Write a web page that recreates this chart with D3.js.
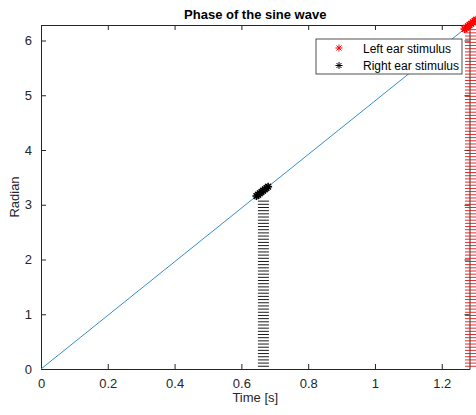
<!DOCTYPE html>
<html>
<head>
<meta charset="utf-8">
<script src="https://cdn.jsdelivr.net/npm/d3@7/dist/d3.min.js"></script>
<style>
    body { margin: 0; background: #fff; }
    svg { display: block; font-family: "Liberation Sans", Arial, sans-serif; }
</style>
</head>
<body>
<svg id="svg"></svg>
<script>
// phase line, one period of the sine wave
let phaseTime = [0, 1.283];
let phaseValue = [0, 6.2832];

// stimulus onsets (asterisks along the phase line)
let rightEarTime = [0.645, 0.65, 0.655, 0.66, 0.665, 0.67, 0.675, 0.68];
let rightEarPhase = [3.159, 3.183, 3.208, 3.232, 3.257, 3.281, 3.305, 3.330];
let leftEarTime = [1.268, 1.273, 1.278, 1.283, 1.288, 1.293, 1.298, 1.303];
let leftEarPhase = [6.209, 6.234, 6.258, 6.283, 6.307, 6.332, 6.356, 6.381];

// dashed stacks under each stimulus
let rightStackTime = 0.666;
let rightStackTop = 3.1;
let leftStackTime = 1.286;
let leftStackTop = 6.2;
let dashLevels = [0.05, 0.108, 0.166, 0.224, 0.282, 0.34, 0.398, 0.456, 0.514, 0.572,
    0.63, 0.688, 0.746, 0.804, 0.862, 0.92, 0.978, 1.036, 1.094, 1.152,
    1.21, 1.268, 1.326, 1.384, 1.442, 1.5, 1.558, 1.616, 1.674, 1.732,
    1.79, 1.848, 1.906, 1.964, 2.022, 2.08, 2.138, 2.196, 2.254, 2.312,
    2.37, 2.428, 2.486, 2.544, 2.602, 2.66, 2.718, 2.776, 2.834, 2.892,
    2.95, 3.008, 3.066, 3.124, 3.182, 3.24, 3.298, 3.356, 3.414, 3.472,
    3.53, 3.588, 3.646, 3.704, 3.762, 3.82, 3.878, 3.936, 3.994, 4.052,
    4.11, 4.168, 4.226, 4.284, 4.342, 4.4, 4.458, 4.516, 4.574, 4.632,
    4.69, 4.748, 4.806, 4.864, 4.922, 4.98, 5.038, 5.096, 5.154, 5.212,
    5.27, 5.328, 5.386, 5.444, 5.502, 5.56, 5.618, 5.676, 5.734, 5.792,
    5.85, 5.908, 5.966, 6.024, 6.082, 6.14, 6.198];

let xTicks = [0, 0.2, 0.4, 0.6, 0.8, 1, 1.2];
let yTicks = [0, 1, 2, 3, 4, 5, 6];
let legendLabels = ["Left ear stimulus", "Right ear stimulus"];
let legendColors = ["#ff0000", "#000000"];

const width = 476;
const height = 415;
const margin = { top: 25, right: 6.5, bottom: 46, left: 41 };
const chartWidth = width - margin.left - margin.right;
const chartHeight = height - margin.top - margin.bottom;
const axisColor = "#262626";

let svg = d3.select("#svg").attr("width", width).attr("height", height);

let chart = svg.append("g")
    .attr("transform", "translate(" + margin.left + "," + margin.top + ")");

let xScale = d3.scaleLinear().domain([0, phaseTime[1]]).range([0, chartWidth]);
let yScale = d3.scaleLinear().domain([0, phaseValue[1]]).range([chartHeight, 0]);

// axes, ticks inward like matlab
chart.append("g")
    .attr("transform", `translate(0,${chartHeight})`)
    .call(d3.axisBottom(xScale).tickValues(xTicks).tickSizeInner(-5).tickSizeOuter(0).tickPadding(10).tickFormat(d3.format("~g")));
chart.append("g")
    .call(d3.axisTop(xScale).tickValues(xTicks).tickSizeInner(-5).tickSizeOuter(0).tickFormat(""));
chart.append("g")
    .call(d3.axisLeft(yScale).tickValues(yTicks).tickSizeInner(-5).tickSizeOuter(0).tickPadding(9).tickFormat(d3.format("~g")));
chart.append("g")
    .attr("transform", `translate(${chartWidth},0)`)
    .call(d3.axisRight(yScale).tickValues(yTicks).tickSizeInner(-5).tickSizeOuter(0).tickFormat(""));

chart.selectAll(".domain, .tick line").attr("stroke", axisColor);
chart.selectAll(".tick text")
    .attr("fill", axisColor)
    .style("font-size", "13px")
    .style("font-family", "Liberation Sans, Arial, sans-serif");

// phase line
chart.append("path")
    .datum(d3.zip(phaseTime, phaseValue))
    .attr("fill", "none")
    .attr("stroke", "#1f80c4")
    .attr("stroke-width", 0.9)
    .attr("d", d3.line().x(d => xScale(d[0])).y(d => yScale(d[1])));

// dash stacks
function drawStack(t, top, color) {
    let cx = xScale(t);
    chart.append("g").selectAll("line")
        .data(dashLevels.filter(d => d < top))
        .join("line")
        .attr("x1", cx - 5.5)
        .attr("x2", cx + 5.5)
        .attr("y1", d => yScale(d))
        .attr("y2", d => yScale(d))
        .attr("stroke", color)
        .attr("stroke-width", 0.9);
}
drawStack(rightStackTime, rightStackTop, "#000000");
drawStack(leftStackTime, leftStackTop, "#d81818");

// asterisk marker
function asterisk(g, x, y, r, color, w) {
    let a = r * 0.7071;
    let segs = [[-r, 0, r, 0], [0, -r, 0, r], [-a, -a, a, a], [-a, a, a, -a]];
    for (let s of segs) {
        g.append("line")
            .attr("x1", x + s[0]).attr("y1", y + s[1])
            .attr("x2", x + s[2]).attr("y2", y + s[3])
            .attr("stroke", color)
            .attr("stroke-width", w);
    }
}

let markers = chart.append("g");
rightEarTime.forEach((t, i) => asterisk(markers, xScale(t), yScale(rightEarPhase[i]), 4, "#000000", 1.6));
leftEarTime.forEach((t, i) => asterisk(markers, xScale(t), yScale(leftEarPhase[i]), 4, "#ff0000", 1.6));

// legend
let legend = svg.append("g").attr("transform", "translate(316,39)");
legend.append("rect")
    .attr("width", 146).attr("height", 35)
    .attr("fill", "#fff")
    .attr("stroke", axisColor)
    .attr("stroke-width", 0.8);
legendLabels.forEach((label, i) => {
    let y = 9 + i * 17.5;
    asterisk(legend, 23, y, 3.5, legendColors[i], 1);
    legend.append("text")
        .attr("x", 47).attr("y", y + 4.5)
        .attr("fill", "#000")
        .style("font-size", "12px")
        .text(label);
});

// title and axis labels
svg.append("text")
    .attr("x", margin.left + chartWidth / 2)
    .attr("y", 19)
    .attr("text-anchor", "middle")
    .style("font-size", "13px")
    .style("font-weight", "bold")
    .attr("fill", "#000")
    .text("Phase of the sine wave");

svg.append("text")
    .attr("x", margin.left + chartWidth / 2)
    .attr("y", 402)
    .attr("text-anchor", "middle")
    .style("font-size", "13px")
    .attr("fill", axisColor)
    .text("Time [s]");

svg.append("text")
    .attr("transform", `translate(19,${margin.top + chartHeight / 2}) rotate(-90)`)
    .attr("text-anchor", "middle")
    .style("font-size", "13px")
    .attr("fill", axisColor)
    .text("Radian");
</script>
</body>
</html>
